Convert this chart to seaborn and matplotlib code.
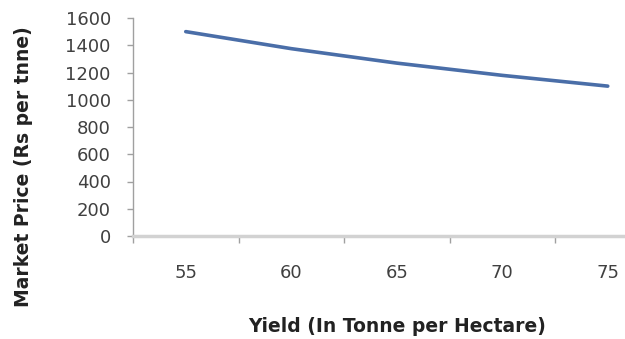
import matplotlib
matplotlib.use("Agg")
import matplotlib.pyplot as plt
import seaborn as sns
import numpy as np
import pandas as pd

# Yield categories and the corresponding market price
yield_labels = ["55", "60", "65", "70", "75"]
market_price = [1500, 1375, 1269, 1179, 1100]
y_ticks = [0, 200, 400, 600, 800, 1000, 1200, 1400, 1600]

sns.set_theme(style="white")
plt.rcParams["font.family"] = ["DejaVu Sans"]

df = pd.DataFrame({"pos": np.arange(len(yield_labels)), "price": market_price})

fig = plt.figure(figsize=(6.25, 3.39), dpi=100)
ax = fig.add_axes([133 / 625, 103 / 339, 527.5 / 625, 218 / 339])

sns.lineplot(data=df, x="pos", y="price", ax=ax, color="#4a6ea8", linewidth=2.6)

ax.set_xlim(-0.5, len(yield_labels) - 0.5)
ax.set_ylim(0, 1600)

ax.set_xticks(np.arange(len(yield_labels)))
ax.set_xticklabels(yield_labels)
ax.set_xticks(np.arange(len(yield_labels) + 1) - 0.5, minor=True)
ax.tick_params(axis="x", which="major", length=0, pad=20, labelsize=13, labelcolor="#404040")
ax.tick_params(axis="x", which="minor", length=5, width=1, color="#a0a0a0", direction="out", bottom=True)

ax.set_yticks(y_ticks)
ax.tick_params(axis="y", length=4, width=1, color="#a0a0a0", direction="out", left=True,
               labelsize=13, labelcolor="#404040", pad=12)

for side in ["top", "right"]:
    ax.spines[side].set_visible(False)
ax.spines["left"].set_color("#a0a0a0")
ax.spines["left"].set_linewidth(1)
ax.spines["bottom"].set_color("#d2d2d2")
ax.spines["bottom"].set_linewidth(2.5)

ax.set_xlabel("Yield (In Tonne per Hectare)", fontsize=13.5, fontweight="bold", color="#222222")
ax.set_ylabel("Market Price (Rs per tnne)", fontsize=13.5, fontweight="bold", color="#222222")
ax.xaxis.label.set_verticalalignment("center")
ax.yaxis.label.set_verticalalignment("center")
ax.xaxis.set_label_coords((397 - 133) / 527.5, -(326 - 236) / 218)
ax.yaxis.set_label_coords(-(133 - 24) / 527.5, (236 - 167) / 218)

fig.savefig("out.png", dpi=100)
